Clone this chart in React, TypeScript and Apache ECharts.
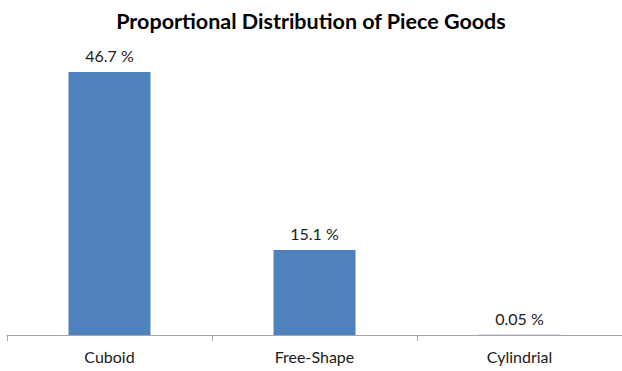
import React, { useEffect, useRef } from "react";
import * as echarts from "echarts";

const categories = ["Cuboid", "Free-Shape", "Cylindrial"];
const shares = [46.7, 15.1, 0.05];
const titleText = "Proportional Distribution of Piece Goods";

export default function App() {
  const ref = useRef<HTMLDivElement>(null);

  useEffect(() => {
    document.body.style.margin = "0";
    const chart = echarts.init(ref.current!, null, { renderer: "svg" });
    chart.setOption({
      animation: false,
      backgroundColor: "#ffffff",
      title: {
        text: titleText,
        left: "center",
        top: 5,
        textStyle: {
          fontFamily: "Lato",
          fontWeight: "bold",
          fontSize: 21.5,
          color: "#000000",
        },
      },
      grid: { left: 7, right: -6, top: 53.4, bottom: 36 },
      xAxis: {
        type: "category",
        data: categories,
        axisLine: { lineStyle: { color: "#a6a6a6", width: 1 } },
        axisTick: { show: true, length: 6, lineStyle: { color: "#a6a6a6" } },
        axisLabel: {
          margin: 13,
          fontFamily: "Lato",
          fontSize: 16,
          color: "#1a1a1a",
        },
      },
      yAxis: {
        type: "value",
        min: 0,
        max: 50,
        show: false,
        splitLine: { show: false },
      },
      series: [
        {
          type: "bar",
          data: shares,
          barWidth: "40%",
          itemStyle: { color: "#4f81bd" },
          label: {
            show: true,
            position: "top",
            distance: 8,
            formatter: (p: any) => `${p.value} %`,
            fontFamily: "Lato",
            fontSize: 16,
            color: "#1a1a1a",
          },
        },
      ],
    });
    return () => chart.dispose();
  }, []);

  return <div ref={ref} style={{ width: 622, height: 371 }} />;
}
